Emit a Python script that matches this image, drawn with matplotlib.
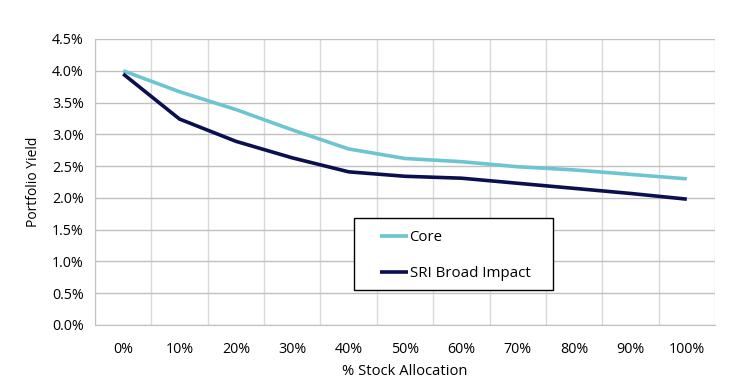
import matplotlib
matplotlib.use("Agg")
import matplotlib.pyplot as plt
import numpy as np
from matplotlib.ticker import FixedLocator
from matplotlib.patches import Rectangle

categories = ["0%", "10%", "20%", "30%", "40%", "50%", "60%", "70%", "80%", "90%", "100%"]
core = [4.00, 3.67, 3.39, 3.07, 2.77, 2.62, 2.57, 2.49, 2.44, 2.37, 2.30]
sri = [3.95, 3.24, 2.89, 2.63, 2.41, 2.34, 2.31, 2.23, 2.15, 2.07, 1.98]
yticks = [0.0, 0.5, 1.0, 1.5, 2.0, 2.5, 3.0, 3.5, 4.0, 4.5]

plt.rcParams['font.family'] = ['Open Sans', 'DejaVu Sans']

W, H = 750, 386
fig = plt.figure(figsize=(W/100, H/100), dpi=100)
ax = fig.add_axes([95/W, 1-325/H, 620/W, (325-39)/H])

x = np.arange(len(categories))
ax.plot(x, core, color="#6CC5D1", lw=2.6, label="Core", solid_capstyle='butt')
ax.plot(x, sri, color="#0B0F4F", lw=2.6, label="SRI Broad Impact", solid_capstyle='butt')

ax.set_xlim(-0.5, len(categories) - 0.5)
ax.set_ylim(0, 4.5)
ax.set_xticks(x)
ax.set_xticklabels(categories)
ax.xaxis.set_minor_locator(FixedLocator(np.arange(-0.5, len(categories), 1.0)))
ax.set_yticks(yticks)
ax.set_yticklabels([f"{v:.1f}%" for v in yticks])

ax.grid(True, which='major', axis='y', color="#C0C0C0", lw=1)
ax.grid(True, which='minor', axis='x', color="#D9D9D9", lw=1)
ax.set_axisbelow(True)
ax.tick_params(axis='both', which='both', length=0, labelsize=10.3, colors="#000000")
ax.tick_params(axis='x', pad=12)
ax.tick_params(axis='y', pad=8)

for s in ['top', 'right']:
    ax.spines[s].set_visible(False)
ax.spines['left'].set_color("#C0C0C0")
ax.spines['bottom'].set_color("#C0C0C0")

ax.set_xlabel("% Stock Allocation", fontsize=10.6, labelpad=5)
ax.set_ylabel("Portfolio Yield", fontsize=10, labelpad=8)

# legend frame
frame = Rectangle((354/W, 1-290/H), 199/W, 72/H, transform=fig.transFigure,
                  facecolor="white", edgecolor="black", lw=1, zorder=4, clip_on=False)
ax.add_patch(frame)

leg = ax.legend(loc='upper left', bbox_to_anchor=(380/W, 1-230/H),
                bbox_transform=fig.transFigure,
                frameon=False, fontsize=10.8, handlelength=1.85, handletextpad=0.12,
                labelspacing=1.42, borderpad=0, borderaxespad=0)
leg.set_zorder(5)

fig.savefig("out.png", dpi=100)
